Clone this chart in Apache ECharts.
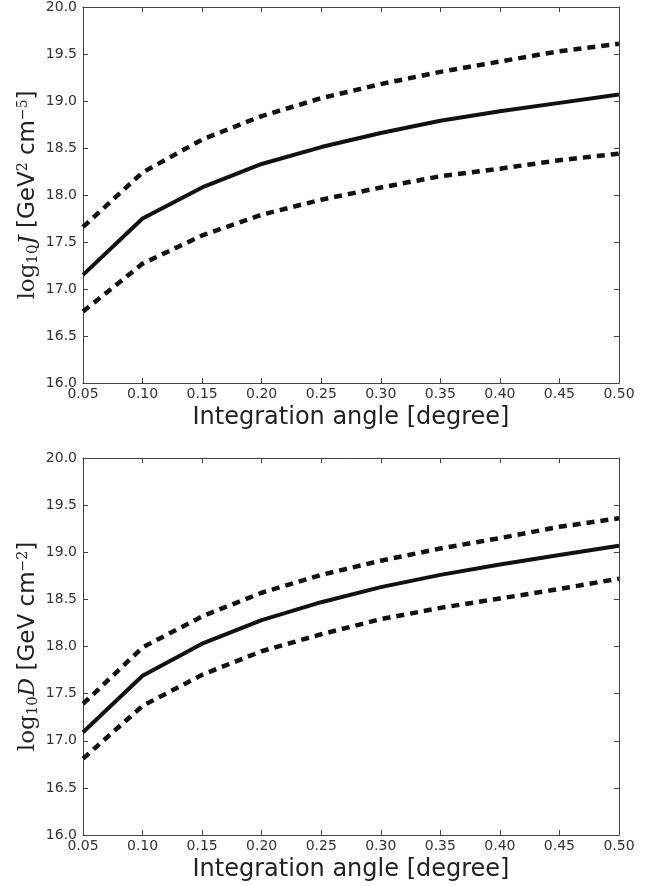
<!DOCTYPE html>
<html>
<head>
<meta charset="utf-8">
<script src="https://cdn.jsdelivr.net/npm/echarts@6/dist/echarts.min.js"></script>
<style>
  html, body { margin: 0; padding: 0; background: #fff; }
  #main { width: 662px; height: 886px; }
</style>
</head>
<body>
<div id="main"></div>
<script>
// integration angle [degree]
var angles = [0.05, 0.10, 0.15, 0.20, 0.25, 0.30, 0.35, 0.40, 0.45, 0.50];

// log10 J  (top panel)
var jMid   = [17.15, 17.75, 18.08, 18.33, 18.51, 18.66, 18.79, 18.89, 18.98, 19.07];
var jUpper = [17.66, 18.24, 18.59, 18.84, 19.03, 19.18, 19.31, 19.42, 19.53, 19.61];
var jLower = [16.76, 17.27, 17.57, 17.79, 17.95, 18.08, 18.20, 18.28, 18.37, 18.44];

// log10 D  (bottom panel)
var dMid   = [17.09, 17.69, 18.03, 18.28, 18.47, 18.63, 18.76, 18.87, 18.97, 19.07];
var dUpper = [17.39, 17.99, 18.32, 18.57, 18.76, 18.91, 19.04, 19.15, 19.27, 19.36];
var dLower = [16.81, 17.37, 17.70, 17.95, 18.13, 18.29, 18.41, 18.51, 18.61, 18.72];

var myChart = echarts.init(document.getElementById('main'));

function pairs(ys) {
  return angles.map(function (x, i) { return [x, ys[i]]; });
}

var tickFont = { color: '#333', fontSize: 14, fontFamily: 'DejaVu Sans' };
var axisCol = '#444';

function xAxes(gi) {
  return [
    {
      type: 'value', gridIndex: gi, min: 0.05, max: 0.5, interval: 0.05,
      name: 'Integration angle [degree]', nameLocation: 'middle', nameGap: 23,
      nameTextStyle: { fontSize: 24, color: '#222', fontFamily: 'DejaVu Sans' },
      axisLine: { show: true, lineStyle: { color: axisCol, width: 1 } },
      axisTick: { inside: true, length: 5, lineStyle: { color: axisCol } },
      axisLabel: Object.assign({ margin: 4, formatter: function (v) { return v.toFixed(2); } }, tickFont),
      splitLine: { show: false }
    },
    {
      type: 'value', gridIndex: gi, position: 'top', min: 0.05, max: 0.5, interval: 0.05,
      axisLine: { show: true, lineStyle: { color: axisCol, width: 1 } },
      axisTick: { inside: true, length: 5, lineStyle: { color: axisCol } },
      axisLabel: { show: false }, splitLine: { show: false }
    }
  ];
}

function yAxes(gi, nameRich) {
  return [
    {
      type: 'value', gridIndex: gi, min: 16, max: 20, interval: 0.5,
      name: nameRich.text, nameLocation: 'middle', nameRotate: 90, nameGap: 42,
      nameMoveOverlap: false,
      nameTextStyle: { fontSize: 23, color: '#222', fontFamily: 'DejaVu Sans', rich: nameRich.rich },
      axisLine: { show: true, lineStyle: { color: axisCol, width: 1 } },
      axisTick: { inside: true, length: 5, lineStyle: { color: axisCol } },
      axisLabel: Object.assign({ margin: 6, formatter: function (v) { return v.toFixed(1); } }, tickFont),
      splitLine: { show: false }
    },
    {
      type: 'value', gridIndex: gi, position: 'right', min: 16, max: 20, interval: 0.5,
      axisLine: { show: true, lineStyle: { color: axisCol, width: 1 } },
      axisTick: { inside: true, length: 5, lineStyle: { color: axisCol } },
      axisLabel: { show: false }, splitLine: { show: false }
    }
  ];
}

var mathRich = {
  m: { fontFamily: 'DejaVu Serif', fontSize: 23, color: '#222' },
  i: { fontFamily: 'DejaVu Serif', fontStyle: 'italic', fontSize: 23, color: '#222' },
  sub: { fontFamily: 'DejaVu Serif', fontSize: 15, color: '#222', verticalAlign: 'bottom', padding: [9, 0, 0, 0] },
  sup: { fontFamily: 'DejaVu Serif', fontSize: 14, color: '#222', verticalAlign: 'top', padding: [0, 0, 11, 0] },
  t: { fontFamily: 'DejaVu Sans', fontSize: 23, color: '#222' }
};

var jName = { text: '{m|log}{sub|10}{i|J}{t| [GeV}{sup|2}{t| cm}{sup|−5}{t|]}', rich: mathRich };
var dName = { text: '{m|log}{sub|10}{i|D}{t| [GeV cm}{sup|−2}{t|]}', rich: mathRich };

function lineSeries(xi, yi, ys, dashed) {
  return {
    type: 'line', xAxisIndex: xi, yAxisIndex: yi, data: pairs(ys),
    showSymbol: false, symbol: 'none', silent: true,
    lineStyle: dashed
      ? { color: '#111', width: 4.5, type: [8, 6], cap: 'butt' }
      : { color: '#111', width: 4 }
  };
}

var option = {
  animation: false,
  grid: [
    { left: 83, right: 43, top: 6, height: 377 },
    { left: 83, right: 43, top: 458, height: 377 }
  ],
  xAxis: xAxes(0).concat(xAxes(1)),
  yAxis: yAxes(0, jName).concat(yAxes(1, dName)),
  series: [
    lineSeries(0, 0, jMid, false),
    lineSeries(0, 0, jUpper, true),
    lineSeries(0, 0, jLower, true),
    lineSeries(2, 2, dMid, false),
    lineSeries(2, 2, dUpper, true),
    lineSeries(2, 2, dLower, true)
  ]
};

myChart.setOption(option);
</script>
</body>
</html>
